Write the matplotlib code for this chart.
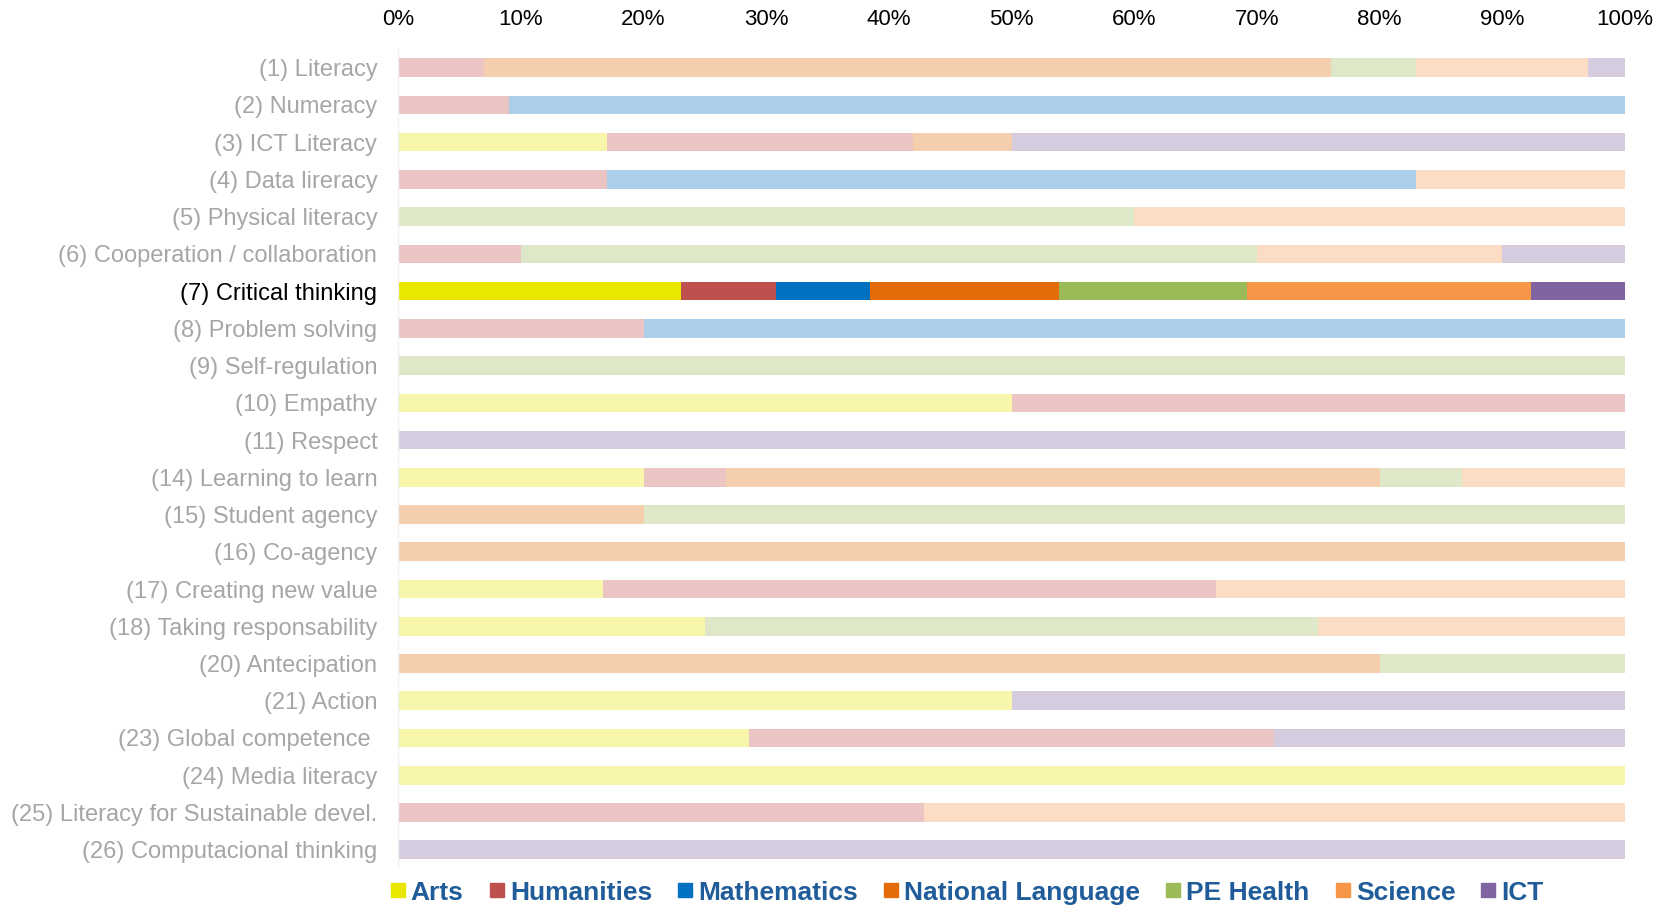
import matplotlib
matplotlib.use("Agg")
import matplotlib.pyplot as plt
from matplotlib.lines import Line2D
import numpy as np

categories = [
    "(1) Literacy", "(2) Numeracy", "(3) ICT Literacy", "(4) Data lireracy",
    "(5) Physical literacy", "(6) Cooperation / collaboration", "(7) Critical thinking",
    "(8) Problem solving", "(9) Self-regulation", "(10) Empathy", "(11) Respect",
    "(14) Learning to learn", "(15) Student agency", "(16) Co-agency",
    "(17) Creating new value", "(18) Taking responsability", "(20) Antecipation",
    "(21) Action", "(23) Global competence ", "(24) Media literacy",
    "(25) Literacy for Sustainable devel.", "(26) Computacional thinking",
]
highlight = "(7) Critical thinking"

subjects = ["Arts", "Humanities", "Mathematics", "National Language", "PE Health", "Science", "ICT"]

arts        = [0, 0, 17, 0, 0, 0, 23.1, 0, 0, 50, 0, 20, 0, 0, 16.7, 25, 0, 50, 28.6, 100, 0, 0]
humanities  = [7, 9, 25, 17, 0, 10, 7.7, 20, 0, 50, 0, 6.7, 0, 0, 50, 0, 0, 0, 42.9, 0, 42.9, 0]
mathematics = [0, 91, 0, 66, 0, 0, 7.7, 80, 0, 0, 0, 0, 0, 0, 0, 0, 0, 0, 0, 0, 0, 0]
national    = [69, 0, 8, 0, 0, 0, 15.4, 0, 0, 0, 0, 53.3, 20, 100, 0, 0, 80, 0, 0, 0, 0, 0]
pe_health   = [7, 0, 0, 0, 60, 60, 15.4, 0, 100, 0, 0, 6.7, 80, 0, 0, 50, 20, 0, 0, 0, 0, 0]
science     = [14, 0, 0, 17, 40, 20, 23.1, 0, 0, 0, 0, 13.3, 0, 0, 33.3, 25, 0, 0, 0, 0, 57.1, 0]
ict         = [3, 0, 50, 0, 0, 10, 7.7, 0, 0, 0, 100, 0, 0, 0, 0, 0, 0, 50, 28.6, 0, 0, 100]

series = [arts, humanities, mathematics, national, pe_health, science, ict]
colors = ["#E9E600", "#C0504D", "#0070C0", "#E36C09", "#9BBB59", "#F79646", "#8064A2"]

plt.rcParams['font.family'] = ['Liberation Sans', 'DejaVu Sans']

fig = plt.figure(figsize=(16.68, 9.08), dpi=100)
ax = fig.add_axes([0.2387, 0.0437, 0.7355, 0.9023])

data = np.array(series, dtype=float)
totals = data.sum(axis=0)
pct = data / totals * 100

y = np.arange(len(categories))
left = np.zeros(len(categories))
for i, (name, col) in enumerate(zip(subjects, colors)):
    vals = pct[i]
    for j in range(len(categories)):
        if vals[j] <= 0:
            continue
        a = 1.0 if categories[j] == highlight else 0.33
        ax.barh(y[j], vals[j], left=left[j], height=0.5, color=col, alpha=a, linewidth=0)
    left += vals

ax.set_xlim(0, 100)
ax.set_ylim(len(categories) - 0.5, -0.5)
ax.set_yticks(y)
ax.set_yticklabels(categories, fontsize=17)
for lbl in ax.get_yticklabels():
    if lbl.get_text() == highlight:
        lbl.set_color("#000000")
    else:
        lbl.set_color("#A6A6A6")

ax.xaxis.tick_top()
ax.set_xticks(np.arange(0, 101, 10))
ax.set_xticklabels([f"{v}%" for v in range(0, 101, 10)], fontsize=16, color="#000000")
ax.tick_params(axis='both', length=0)
ax.tick_params(axis='y', pad=15)
ax.tick_params(axis='x', pad=14)
for s in ["top", "right", "bottom"]:
    ax.spines[s].set_visible(False)
ax.spines["left"].set_color("#F0F0F0")
ax.spines["left"].set_linewidth(1.0)

handles = [Line2D([0], [0], marker='s', linestyle='none', markersize=10,
                  markerfacecolor=c, markeredgecolor=c) for c in colors]
leg = fig.legend(handles, subjects, loc='center left', bbox_to_anchor=(0.232, 0.017),
                 ncol=7, frameon=False, handletextpad=0.1, columnspacing=0.85,
                 borderaxespad=0, borderpad=0, handlelength=0.8,
                 prop={'size': 19, 'weight': 'bold'})
for t in leg.get_texts():
    t.set_color("#1F5C99")

fig.savefig("out.png", dpi=100)
